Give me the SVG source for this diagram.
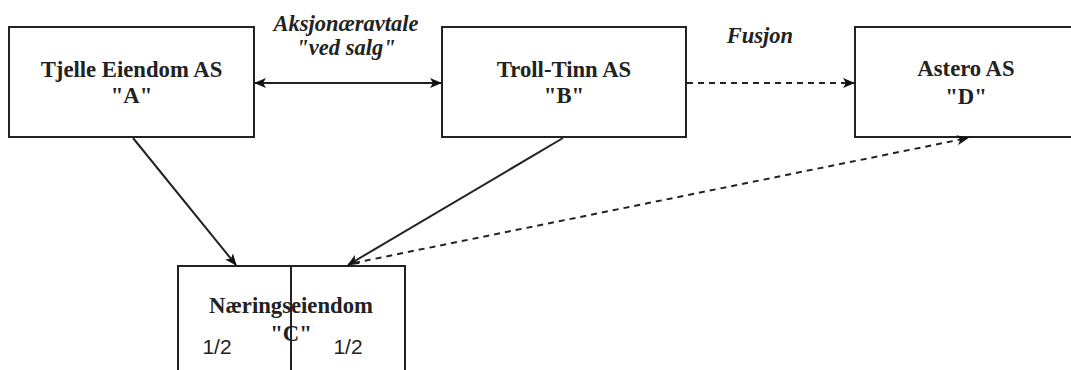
<svg xmlns="http://www.w3.org/2000/svg" width="1071" height="370" viewBox="0 0 1071 370">
<style>
.box{fill:#fff;stroke:#222;stroke-width:2}
.t{font-family:"Liberation Serif",serif;font-weight:bold;font-size:22.7px;fill:#222;text-anchor:middle}
.i{font-family:"Liberation Serif",serif;font-weight:bold;font-style:italic;font-size:22.5px;fill:#222;text-anchor:middle}
.s{font-family:"Liberation Sans",Arial,sans-serif;font-size:21px;fill:#222;text-anchor:middle}
.ln{fill:none;stroke:#222;stroke-width:2}
.dash{stroke-dasharray:6 5}
</style>
<defs>
<marker id="ah" viewBox="0 0 12 10" refX="11" refY="5" markerWidth="12" markerHeight="10" markerUnits="userSpaceOnUse" orient="auto-start-reverse">
<path d="M0,0 L12,5 L0,10 L3,5 Z" fill="#111"/>
</marker>
</defs>
<rect width="1071" height="370" fill="#fff"/>
<g id="nodeA">
<rect class="box" x="9" y="27" width="245" height="110"/>
<text class="t" x="131.5" y="77">Tjelle Eiendom AS</text>
<text class="t" x="131.5" y="103">"A"</text>
</g>
<g id="nodeB">
<rect class="box" x="442" y="27" width="244" height="110"/>
<text class="t" x="564" y="77">Troll-Tinn AS</text>
<text class="t" x="564" y="103">"B"</text>
</g>
<g id="nodeD">
<rect class="box" x="855" y="27" width="230" height="110"/>
<text class="t" x="966" y="76">Astero AS</text>
<text class="t" x="966" y="104">"D"</text>
</g>
<g id="nodeC">
<rect class="box" x="178" y="266" width="227" height="120"/>
<line class="ln" x1="291" y1="266" x2="291" y2="372"/>
<text class="t" x="291" y="313">Næringseiendom</text>
<text class="t" x="291" y="341">"C"</text>
<text class="s" x="217" y="354">1/2</text>
<text class="s" x="348" y="354">1/2</text>
</g>
<g id="labels">
<text class="i" x="346" y="31">Aksjonæravtale</text>
<text class="i" x="346" y="55">"ved salg"</text>
<text class="i" x="760" y="43">Fusjon</text>
</g>
<g id="connectors">
<line class="ln" x1="255" y1="83" x2="441" y2="83" marker-start="url(#ah)" marker-end="url(#ah)"/>
<line class="ln dash" x1="687" y1="83" x2="854" y2="83" marker-end="url(#ah)"/>
<line class="ln" x1="133" y1="138" x2="236" y2="265" marker-end="url(#ah)"/>
<line class="ln" x1="563" y1="138" x2="348" y2="265" marker-end="url(#ah)"/>
<line class="ln dash" x1="354" y1="263" x2="968" y2="138" marker-end="url(#ah)"/>
</g>
</svg>
